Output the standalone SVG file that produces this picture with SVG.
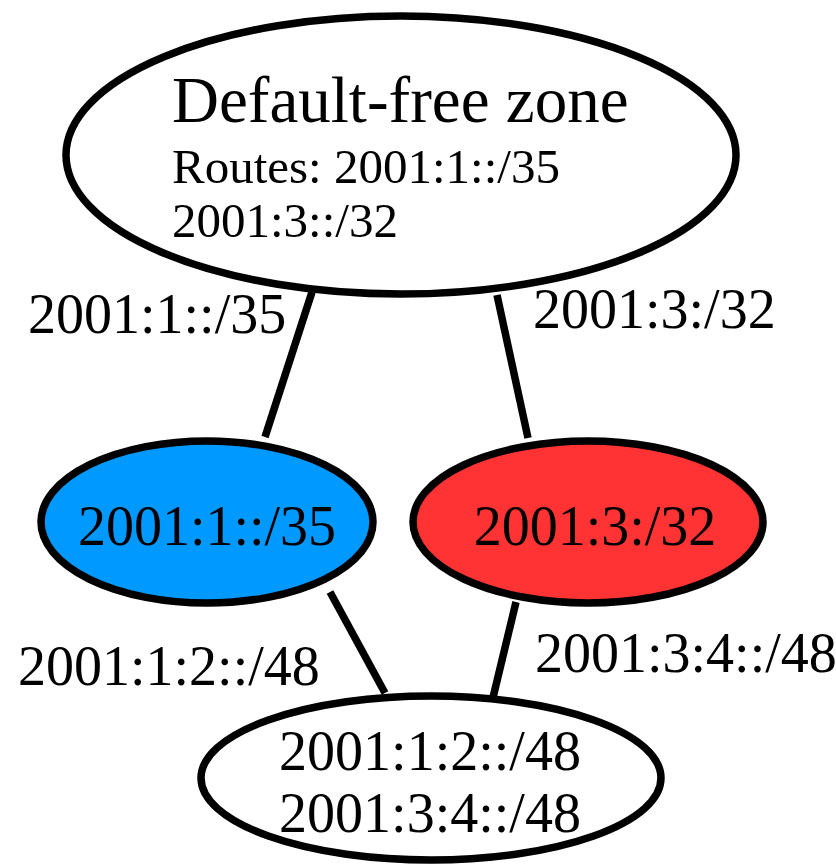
<svg xmlns="http://www.w3.org/2000/svg" width="836" height="867" viewBox="0 0 836 867">
<style>
.node{stroke:#000;stroke-width:7.5}
.edge{stroke:#000;stroke-width:7.5;fill:none}
text{font-family:"Liberation Serif","Times New Roman",serif;fill:#000}
.t56{font-size:56px}
.t49{font-size:49px}
</style>
<rect width="836" height="867" fill="#fff"/>
<g id="connectors">
<line class="edge" x1="312" y1="292" x2="265" y2="437"/>
<line class="edge" x1="497" y1="295" x2="528" y2="438"/>
<line class="edge" x1="330" y1="592" x2="385" y2="693"/>
<line class="edge" x1="516" y1="602" x2="490" y2="710"/>
<text class="t56" x="28" y="333">2001:1::/35</text>
<text class="t56" x="533" y="328">2001:3:/32</text>
<text class="t56" x="18" y="685">2001:1:2::/48</text>
<text class="t56" x="535" y="672">2001:3:4::/48</text>
</g>
<g id="dfz">
<ellipse class="node" cx="401" cy="155" rx="335" ry="139" fill="#fff"/>
<text x="172" y="122" font-size="65">Default-free zone</text>
<text class="t49" x="172" y="183">Routes: 2001:1::/35</text>
<text class="t49" x="172" y="237">2001:3::/32</text>
</g>
<g id="n1">
<ellipse class="node" cx="207" cy="522" rx="166" ry="81" fill="#0099ff"/>
<text class="t56" x="207" y="545" text-anchor="middle">2001:1::/35</text>
</g>
<g id="n3">
<ellipse class="node" cx="588" cy="522" rx="175" ry="81" fill="#ff3333"/>
<text class="t56" x="595" y="545" text-anchor="middle">2001:3:/32</text>
</g>
<g id="leaf">
<ellipse class="node" cx="431" cy="778" rx="230" ry="82" fill="#fff"/>
<text class="t56" x="430" y="770" text-anchor="middle">2001:1:2::/48</text>
<text class="t56" x="430" y="832" text-anchor="middle">2001:3:4::/48</text>
</g>
</svg>
